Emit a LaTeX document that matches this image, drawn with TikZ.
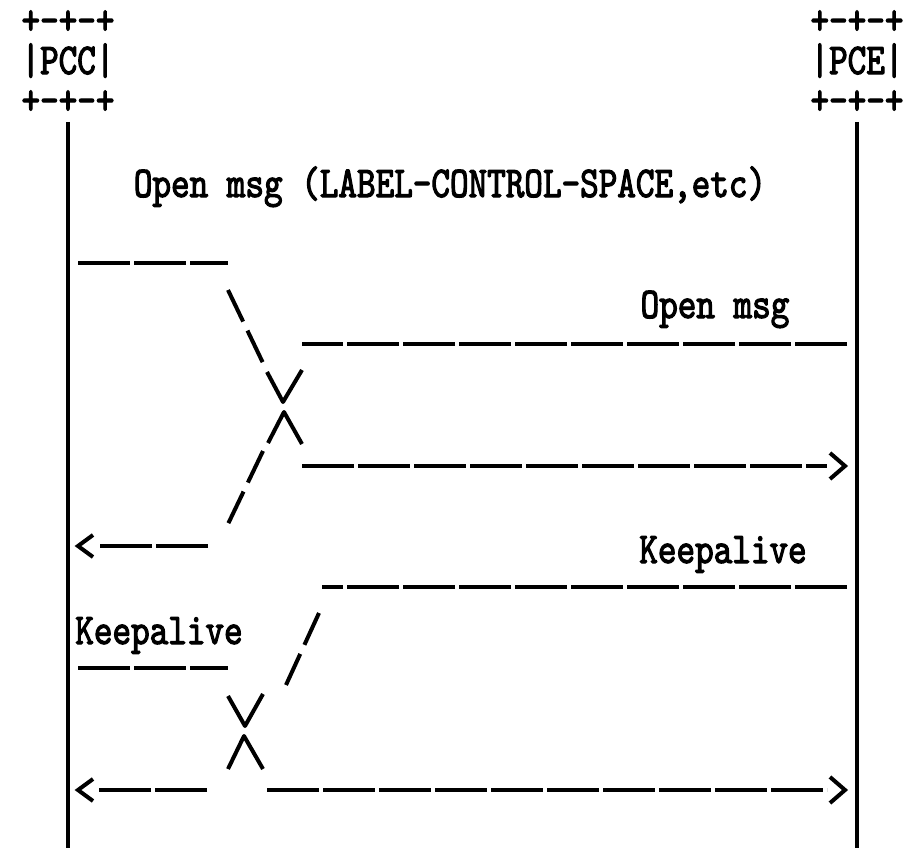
\documentclass[tikz,border=0pt]{standalone}
\usepackage{fontspec}
\newfontfamily\asciifont[FakeStretch=0.805,FakeBold=2.5]{lmmono10-regular.otf}
\begin{document}
\begin{tikzpicture}[x=1pt,y=-1pt,
  txt/.style={font=\asciifont\fontsize{44}{40}\selectfont, inner sep=0pt, anchor=base},
  boxlbl/.style={font={\asciifont\fontsize{44}{40}\selectfont\lineskiplimit=-60pt\relax},
    inner sep=0pt, align=center, anchor=base},
  life/.style={line width=4pt},
  dashln/.style={line width=3.5pt, dash pattern=on 52pt off 4pt},
  diag/.style={line width=4pt, dash pattern=on 35pt off 10pt},
  glyph/.style={line width=4pt, line join=round},
  tip/.style={line width=4pt, line join=miter}]
\useasboundingbox (0,0) rectangle (921,848);
% boxes (ASCII art, three rows each)
\node[boxlbl] (pcc) at (68,114) {+-+-+\\|PCC|\\+-+-+};
\node[boxlbl] (pce) at (857,114) {+-+-+\\|PCE|\\+-+-+};
% lifelines
\coordinate (pccTop) at (68,122);  \coordinate (pccEnd) at (68,848);
\coordinate (pceTop) at (857,122); \coordinate (pceEnd) at (857,848);
\draw[life] (pccTop) -- (pccEnd);
\draw[life] (pceTop) -- (pceEnd);
% labels
\node[txt] (lblOpen) at (450,197) {Open msg (LABEL-CONTROL-SPACE,etc)};
\node[txt] (lblOpenR) at (715,318) {Open msg};
\node[txt] (lblKaR) at (723,563) {Keepalive};
\node[txt] (lblKaL) at (159,644) {Keepalive};
% --- Open exchange ---
\coordinate (a1) at (78,263);  \coordinate (a2) at (228,263);
\coordinate (a3) at (228,290); \coordinate (a4) at (263,363);
\draw[dashln] (a1) -- (a2);
\draw[diag] (a3) -- (a4);
\coordinate (v1) at (267,372); \coordinate (v2) at (283,402); \coordinate (v3) at (302,370);
\draw[glyph] (v1) -- (v2) -- (v3);
\coordinate (w1) at (268,443); \coordinate (w2) at (284,412); \coordinate (w3) at (302,444);
\draw[glyph] (w1) -- (w2) -- (w3);
\coordinate (b1) at (263,451); \coordinate (b2) at (228,524);
\draw[diag] (b1) -- (b2);
\coordinate (b3) at (208,546); \coordinate (b4) at (98,546);
\draw[dashln] (b3) -- (b4);
\coordinate (lt1) at (93,535); \coordinate (lt2) at (78,546); \coordinate (lt3) at (93,557);
\draw[tip] (lt1) -- (lt2) -- (lt3);
\coordinate (c1) at (847,344); \coordinate (c2) at (302,344);
\draw[dashln] (c1) -- (c2);
\coordinate (d1) at (302,466); \coordinate (d2) at (827,466);
\draw[dashln] (d1) -- (d2);
\coordinate (rt1) at (830,453); \coordinate (rt2) at (845,466); \coordinate (rt3) at (830,479);
\draw[tip] (rt1) -- (rt2) -- (rt3);
% --- Keepalive exchange ---
\coordinate (e1) at (847,587); \coordinate (e2) at (322,587);
\draw[dashln] (e1) -- (e2);
\coordinate (e3) at (319,613); \coordinate (e4) at (286,685);
\draw[diag] (e3) -- (e4);
\coordinate (f1) at (78,668); \coordinate (f2) at (228,668);
\draw[dashln] (f1) -- (f2);
\coordinate (x1) at (228,696); \coordinate (x2) at (245,726); \coordinate (x3) at (263,694);
\draw[glyph] (x1) -- (x2) -- (x3);
\coordinate (y1) at (228,769); \coordinate (y2) at (244,736); \coordinate (y3) at (263,769);
\draw[glyph] (y1) -- (y2) -- (y3);
\coordinate (g1) at (207,790); \coordinate (g2) at (98,790);
\draw[dashln] (g1) -- (g2);
\coordinate (lu1) at (93,779); \coordinate (lu2) at (78,790); \coordinate (lu3) at (93,801);
\draw[tip] (lu1) -- (lu2) -- (lu3);
\coordinate (h1) at (267,790); \coordinate (h2) at (827,790);
\draw[dashln] (h1) -- (h2);
\coordinate (ru1) at (830,777); \coordinate (ru2) at (845,790); \coordinate (ru3) at (830,803);
\draw[tip] (ru1) -- (ru2) -- (ru3);
\end{tikzpicture}
\end{document}
